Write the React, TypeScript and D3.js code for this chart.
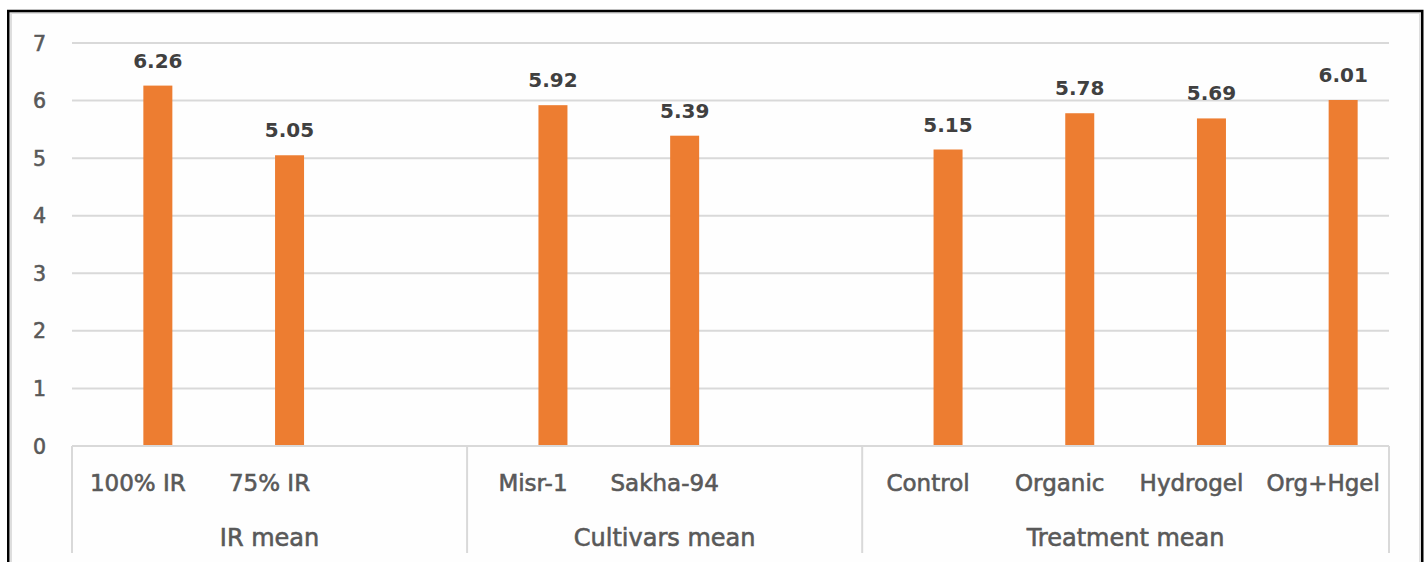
import React from "react";
import * as d3 from "d3";

// ---- data ----
const groups = ["IR mean", "Cultivars mean", "Treatment mean"];
const categories = [
  "100% IR", "75% IR", "",
  "Misr-1", "Sakha-94", " ",
  "Control", "Organic", "Hydrogel", "Org+Hgel",
];
const categoryGroup = [0, 0, 0, 1, 1, 1, 2, 2, 2, 2];
const values: (number | null)[] = [6.26, 5.05, null, 5.92, 5.39, null, 5.15, 5.78, 5.69, 6.01];
const seriesKeys = ["blank", "Mean"];
const yTicks = [0, 1, 2, 3, 4, 5, 6, 7];

// ---- layout ----
const W = 1428;
const H = 562;
const plotLeft = 72;
const plotRight = 1389;
const plotTop = 43;
const plotBottom = 446;
const barWidth = 29;
const ORANGE = "#ED7D31";
const GRID = "#d9d9d9";
const TEXT = "#595959";
const FONT = "'DejaVu Sans', sans-serif";

export default function App() {
  const x = d3
    .scaleBand<number>()
    .domain(d3.range(categories.length))
    .range([plotLeft, plotRight])
    .paddingInner(0)
    .paddingOuter(0);
  const bw = x.bandwidth();
  const x1 = d3
    .scaleBand<string>()
    .domain(seriesKeys)
    .range([0, bw])
    .paddingInner(0)
    .paddingOuter(0.646);
  const y = d3.scaleLinear().domain([0, 7]).range([plotBottom, plotTop]);

  const groupBounds = groups.map((g, gi) => {
    const idx = categoryGroup.map((v, i) => (v === gi ? i : -1)).filter((i) => i >= 0);
    const start = x(idx[0])!;
    const end = x(idx[idx.length - 1])! + bw;
    return { g, start, end };
  });
  const separators = [plotLeft, ...groupBounds.map((b) => b.end)];

  const textStroke = { stroke: TEXT, strokeWidth: 0.6 };

  return (
    <svg
      width={W}
      height={H}
      style={{ position: "absolute", left: 0, top: 0, background: "#fff" }}
    >
      <rect x={0} y={0} width={W} height={H} fill="#fff" />
      <rect x={11} y={13} width={1409} height={700} fill="#fefefe" stroke="#dedede" strokeWidth={2} />
      <rect x={8.25} y={11} width={1414} height={700} fill="none" stroke="#000" strokeWidth={2.5} />

      {yTicks.map((t) => (
        <line
          key={"g" + t}
          x1={plotLeft}
          x2={plotRight}
          y1={y(t)}
          y2={y(t)}
          stroke={GRID}
          strokeWidth={2}
        />
      ))}
      {yTicks.map((t) => (
        <text
          key={"t" + t}
          x={46}
          y={y(t) + 7.5}
          textAnchor="end"
          fontFamily={FONT}
          fontSize={20.5}
          fill={TEXT}
          {...textStroke}
        >
          {t}
        </text>
      ))}

      {values.map((v, i) =>
        v == null ? null : (
          <g key={"b" + i}>
            <rect
              x={x(i)! + x1("Mean")! + x1.bandwidth() / 2 - barWidth / 2}
              y={y(v)}
              width={barWidth}
              height={y(0) - y(v)}
              fill={ORANGE}
            />
            <text
              x={x(i)! + x1("Mean")! + x1.bandwidth() / 2}
              y={y(v) - 18}
              textAnchor="middle"
              fontFamily={FONT}
              fontWeight="bold"
              fontSize={20}
              fill="#404040"
            >
              {v.toFixed(2)}
            </text>
          </g>
        )
      )}

      <line x1={plotLeft} x2={plotRight} y1={plotBottom} y2={plotBottom} stroke={GRID} strokeWidth={2} />
      {separators.map((sx, i) => (
        <line key={"s" + i} x1={sx} x2={sx} y1={plotBottom} y2={553} stroke={GRID} strokeWidth={2} />
      ))}
      {categories.map((c, i) => (
        <text
          key={"c" + i}
          x={x(i)! + bw / 2}
          y={491}
          textAnchor="middle"
          fontFamily={FONT}
          fontSize={23}
          fill={TEXT}
          {...textStroke}
        >
          {c.trim()}
        </text>
      ))}
      {groupBounds.map((b, i) => (
        <text
          key={"gl" + i}
          x={(b.start + b.end) / 2}
          y={546}
          textAnchor="middle"
          fontFamily={FONT}
          fontSize={24}
          fill={TEXT}
          {...textStroke}
        >
          {b.g}
        </text>
      ))}
    </svg>
  );
}
